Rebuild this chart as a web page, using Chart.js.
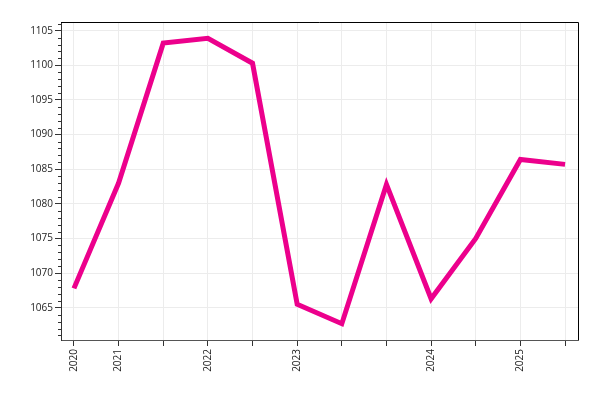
<!DOCTYPE html>
<html><head><meta charset="utf-8">
<script src="https://cdn.jsdelivr.net/npm/chart.js@4/dist/chart.umd.min.js"></script>
<style>html,body{margin:0;padding:0;background:#fff}#wrap{width:600px;height:400px}</style>
</head><body><div id="wrap"><canvas id="c"></canvas></div>
<script>
const xLabels = ['2020','2021','','2022','','2023','','','2024','','2025',''];
const values = [1067.8,1083.0,1103.2,1103.9,1100.3,1065.5,1062.7,1082.8,1066.3,1075.0,1086.4,1085.7];
const yTicks = [1065,1070,1075,1080,1085,1090,1095,1100,1105];
const yMin = 1060.35, yMax = 1106.25;
const lineColor = '#EC008C';

const frame = {
  id:'frame',
  afterDraw(chart){
    const {ctx, chartArea:a, scales:{y}} = chart;
    ctx.save();
    ctx.strokeStyle = '#000'; ctx.lineWidth = 1;
    ctx.beginPath();
    ctx.moveTo(a.left, a.top+0.5); ctx.lineTo(a.right+0.5, a.top+0.5); ctx.lineTo(a.right+0.5, a.bottom);
    ctx.stroke();
    ctx.strokeStyle = '#333';
    ctx.beginPath();
    for (let v = Math.ceil(yMin); v <= yMax; v++) {
      if (yTicks.includes(v)) continue;
      const py = Math.round(y.getPixelForValue(v)) + 0.5;
      ctx.moveTo(a.left - 3, py); ctx.lineTo(a.left, py);
    }
    ctx.stroke();
    ctx.restore();
  }
};

new Chart(document.getElementById('c'), {
  type:'line',
  data:{ datasets:[{ data: values.map((v,i)=>({x:i,y:v})), borderColor:lineColor, borderWidth:5, pointRadius:0, tension:0, borderJoinStyle:'miter', fill:false }]},
  options:{
    responsive:true, maintainAspectRatio:false, animation:false,
    layout:{ padding:{ left:0, top:22, right:22, bottom:0 } },
    plugins:{ legend:{display:false}, tooltip:{enabled:false} },
    scales:{
      x:{ type:'linear', min:-0.29, max:11.29,
        afterBuildTicks(s){ s.ticks = xLabels.map((l,i)=>({value:i})); },
        afterFit(s){ s.height = 60; },
        ticks:{ callback:(v)=>xLabels[v] ?? '', autoSkip:false, maxRotation:90, minRotation:90, padding:3, color:'#222', font:{family:'Open Sans', size:10} },
        grid:{ color:'#ececec', lineWidth:1, tickLength:6, tickColor:'#333' },
        border:{ color:'#555', width:1 }
      },
      y:{ min:yMin, max:yMax,
        afterBuildTicks(s){ s.ticks = yTicks.map(v=>({value:v})); },
        afterFit(s){ s.width = 61; },
        ticks:{ padding:2, color:'#222', font:{family:'Open Sans', size:10}, callback:(v)=>String(v) },
        grid:{ color:'#ececec', lineWidth:1, tickLength:6, tickColor:'#333' },
        border:{ color:'#333', width:1 }
      }
    }
  },
  plugins:[frame]
});
</script></body></html>
